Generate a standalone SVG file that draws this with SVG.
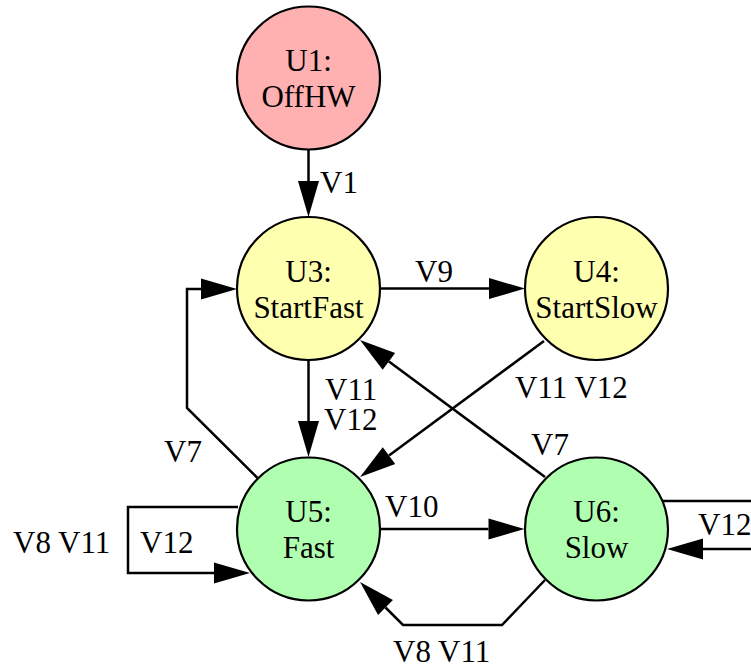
<svg xmlns="http://www.w3.org/2000/svg" width="751" height="668" viewBox="0 0 751 668">
  <style>
    text { font-family: "Liberation Serif", "Times New Roman", serif; font-size: 31px; fill: #000; }
    .node circle { stroke: #000; stroke-width: 2.2; }
    .node text { text-anchor: middle; }
    .off circle { fill: #ffb0b0; }
    .start circle { fill: #ffffb0; }
    .run circle { fill: #b0ffb0; }
    .edge { fill: none; stroke: #000; stroke-width: 2.5; stroke-linejoin: miter; }
  </style>
  <defs>
    <!-- filled arrowhead; the path ends at the arrow base -->
    <marker id="arrow" markerUnits="userSpaceOnUse" markerWidth="36" markerHeight="21" refX="0" refY="10.5" orient="auto" overflow="visible">
      <path d="M0,0 L36,10.5 L0,21 Z" fill="#000"/>
    </marker>
  </defs>

  <rect width="751" height="668" fill="#fff"/>

  <g id="connectors">
    <!-- U1 -> U3 -->
    <path class="edge" d="M308.5,150 L308.5,181" marker-end="url(#arrow)"/>
    <text x="320" y="193">V1</text>
    <!-- U3 -> U4 -->
    <path class="edge" d="M380,288.5 L489,288.5" marker-end="url(#arrow)"/>
    <text x="415" y="282">V9</text>
    <!-- U3 -> U5 -->
    <path class="edge" d="M308.5,360 L308.5,421" marker-end="url(#arrow)"/>
    <text x="325" y="400">V11</text>
    <text x="324" y="430">V12</text>
    <!-- U4 -> U5 -->
    <path class="edge" d="M544,341 L389,455.6" marker-end="url(#arrow)"/>
    <text x="515" y="398">V11 V12</text>
    <!-- U6 -> U3 -->
    <path class="edge" d="M545,477 L388.9,361.4" marker-end="url(#arrow)"/>
    <text x="531" y="455">V7</text>
    <!-- U5 -> U3 -->
    <path class="edge" d="M257.5,478 L187,408 L187,289 L201,289" marker-end="url(#arrow)"/>
    <text x="164" y="462">V7</text>
    <!-- U5 -> U6 -->
    <path class="edge" d="M380,529 L488.5,529" marker-end="url(#arrow)"/>
    <text x="385" y="517">V10</text>
    <!-- U6 -> U5 -->
    <path class="edge" d="M545,580 L502,625 L403,625 L385.5,607.5" marker-end="url(#arrow)"/>
    <text x="393" y="662">V8 V11</text>
    <!-- U5 -> U5 -->
    <path class="edge" d="M238,507 L128,507 L128,573 L214,573" marker-end="url(#arrow)"/>
    <text x="13" y="553">V8 V11</text>
    <text x="140" y="553">V12</text>
    <!-- U6 -> U6 -->
    <path class="edge" d="M662,501 L760,501 L760,549 L703,549" marker-end="url(#arrow)"/>
    <text x="698" y="535">V12</text>
  </g>

  <g id="U1" class="node off">
    <circle cx="308.5" cy="78" r="71.5"/>
    <text x="308.5" y="71">U1:</text>
    <text x="308.5" y="107">OffHW</text>
  </g>
  <g id="U3" class="node start">
    <circle cx="308.5" cy="288.5" r="71.5"/>
    <text x="308.5" y="281.5">U3:</text>
    <text x="308.5" y="317.5">StartFast</text>
  </g>
  <g id="U4" class="node start">
    <circle cx="596.5" cy="288.5" r="71.5"/>
    <text x="596.5" y="281.5">U4:</text>
    <text x="596.5" y="317.5">StartSlow</text>
  </g>
  <g id="U5" class="node run">
    <circle cx="308.5" cy="529" r="71.5"/>
    <text x="308.5" y="522">U5:</text>
    <text x="308.5" y="558">Fast</text>
  </g>
  <g id="U6" class="node run">
    <circle cx="596.5" cy="529" r="71.5"/>
    <text x="596.5" y="522">U6:</text>
    <text x="596.5" y="558">Slow</text>
  </g>
</svg>
